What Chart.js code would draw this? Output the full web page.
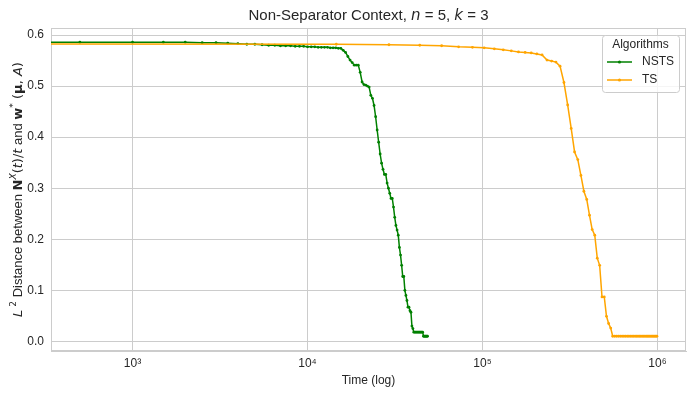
<!DOCTYPE html>
<html>
<head>
<meta charset="utf-8">
<script src="https://cdn.jsdelivr.net/npm/chart.js@4"></script>
<style>
  html, body { margin: 0; padding: 0; background: #ffffff; }
</style>
</head>
<body>
<canvas id="myChart" width="698" height="399"></canvas>
<script>
// Time steps and distances
const nstsTime = [
    1, 500, 1000, 1500, 2000, 2500, 3000, 3500, 4000, 4500, 5000, 5500, 6000, 6500, 7000, 7500,
    8000, 8500, 9000, 9500, 10000, 10500, 11000, 11500, 12000, 12500, 13000, 13500, 14000, 14500, 15000,
    15500, 16000, 16500, 17000, 17500, 18000, 18500, 19000, 19500, 20000, 20500, 21000, 21500, 22000,
    22500, 23000, 23500, 24000, 24500, 25000, 25500, 26000, 26500, 27000, 27500, 28000, 28500, 29000,
    29500, 30000, 30500, 31000, 31500, 32000, 32500, 33000, 33500, 34000, 34500, 35000, 35500, 36000,
    36500, 37000, 37500, 38000, 38500, 39000, 39500, 40000, 40500, 41000, 41500, 42000, 42500, 43000,
    43500, 44000, 44500, 45000, 45500, 46000, 46500, 47000, 47500, 48000, 48500
];
const nstsDist = [
    0.586, 0.586, 0.586, 0.586, 0.586, 0.585, 0.585, 0.584, 0.583, 0.582, 0.582, 0.581, 0.580, 0.580, 0.579, 0.579,
    0.579, 0.578, 0.578, 0.578, 0.577, 0.577, 0.577, 0.576, 0.576, 0.576, 0.576, 0.575, 0.575, 0.575, 0.574,
    0.574, 0.570, 0.566, 0.558, 0.551, 0.546, 0.541, 0.541, 0.541, 0.527, 0.508, 0.503, 0.502, 0.500,
    0.498, 0.482, 0.476, 0.462, 0.440, 0.414, 0.390, 0.367, 0.349, 0.337, 0.327, 0.327, 0.310, 0.300,
    0.290, 0.280, 0.280, 0.263, 0.243, 0.227, 0.218, 0.208, 0.184, 0.169, 0.149, 0.127, 0.127, 0.100,
    0.090, 0.080, 0.067, 0.067, 0.060, 0.057, 0.030, 0.025, 0.018, 0.018, 0.018, 0.018, 0.018, 0.018,
    0.018, 0.018, 0.018, 0.018, 0.018, 0.010, 0.010, 0.010, 0.010, 0.010, 0.010
];
const tsTime = [
    1, 14600, 29200, 43800, 58400, 73000, 87600, 102200, 116800, 131400, 146000, 160600, 175200, 189800,
    204400, 219000, 233600, 248200, 262800, 277400, 292000, 306600, 321200, 335800, 350400, 365000,
    379600, 394200, 408800, 423400, 438000, 452600, 467200, 481800, 496400, 511000, 525600, 540200,
    554800, 569400, 584000, 598600, 613200, 627800, 642400, 657000, 671600, 686200, 700800, 715400,
    730000, 744600, 759200, 773800, 788400, 803000, 817600, 832200, 846800, 861400, 876000, 890600,
    905200, 919800, 934400, 949000, 963600, 978200, 992800
];
const tsDist = [
    0.583, 0.582, 0.581, 0.580, 0.579, 0.577, 0.576, 0.575, 0.573, 0.571, 0.569, 0.567, 0.566, 0.565,
    0.563, 0.561, 0.551, 0.549, 0.547, 0.539, 0.507, 0.463, 0.417, 0.371, 0.356, 0.325,
    0.294, 0.278, 0.247, 0.219, 0.208, 0.163, 0.149, 0.087, 0.087, 0.049, 0.035, 0.026,
    0.010, 0.010, 0.010, 0.010, 0.010, 0.010, 0.010, 0.010, 0.010, 0.010, 0.010, 0.010,
    0.010, 0.010, 0.010, 0.010, 0.010, 0.010, 0.010, 0.010, 0.010, 0.010, 0.010, 0.010,
    0.010, 0.010, 0.010, 0.010, 0.010, 0.010, 0.010
];
const seriesNames = ['NSTS', 'TS'];
const seriesColours = ['#008000', '#FFA500'];
const xTicks = [1000, 10000, 100000, 1000000];
const xTickLabels = ['10³', '10⁴', '10⁵', '10⁶'];
const yTicks = [0.0, 0.1, 0.2, 0.3, 0.4, 0.5, 0.6];
const yTickLabels = ['0.0', '0.1', '0.2', '0.3', '0.4', '0.5', '0.6'];

const TEXT = '#262626';
const GRID = '#cccccc';
const SANS = '"Liberation Sans", Arial, sans-serif';
const MATH = '"DejaVu Sans", sans-serif';

// Draw a line of mixed-font text, centred on (x, y), optionally rotated
function drawRich(ctx, parts, x, y, size, angle) {
    ctx.save();
    ctx.translate(x, y);
    ctx.rotate(angle || 0);
    ctx.fillStyle = TEXT;
    ctx.textBaseline = 'alphabetic';
    ctx.textAlign = 'left';
    let total = 0;
    parts.forEach(function (p) {
        const s = size * (p.sup ? 0.7 : 1);
        ctx.font = (p.style || '') + ' ' + s + 'px ' + (p.family || SANS);
        p.w = ctx.measureText(p.t).width;
        total += p.w;
    });
    let cx = -total / 2;
    parts.forEach(function (p) {
        const s = size * (p.sup ? 0.7 : 1);
        ctx.font = (p.style || '') + ' ' + s + 'px ' + (p.family || SANS);
        ctx.fillText(p.t, cx, size * 0.36 - (p.sup ? size * 0.42 : 0));
        cx += p.w;
    });
    ctx.restore();
}

const decorations = {
    id: 'decorations',
    beforeDatasetsDraw(chart) {
        const a = chart.chartArea;
        const ctx = chart.ctx;
        ctx.save();
        ctx.strokeStyle = GRID;
        ctx.lineWidth = 1;
        ctx.strokeRect(a.left + 0.5, a.top + 0.5, a.right - a.left - 1, a.bottom - a.top - 1);
        ctx.restore();
    },
    afterDraw(chart) {
        const a = chart.chartArea;
        const ctx = chart.ctx;

        // title
        drawRich(ctx, [
            { t: 'Non-Separator Context, ' },
            { t: 'n', style: 'italic', family: MATH },
            { t: ' = 5, ' },
            { t: 'k', style: 'italic', family: MATH },
            { t: ' = 3' }
        ], (a.left + a.right) / 2, 15, 15, 0);

        // y axis label
        drawRich(ctx, [
            { t: 'L', style: 'italic', family: MATH },
            { t: ' 2', family: MATH, sup: true },
            { t: ' Distance between ' },
            { t: 'N', style: 'bold', family: MATH },
            { t: 'X', style: 'italic', family: MATH, sup: true },
            { t: '(', family: MATH },
            { t: 't', style: 'italic', family: MATH },
            { t: ')/', family: MATH },
            { t: 't', style: 'italic', family: MATH },
            { t: ' and ' },
            { t: 'w', style: 'bold', family: MATH },
            { t: '*', family: MATH, sup: true },
            { t: ' (', family: MATH },
            { t: 'μ', style: 'bold', family: MATH },
            { t: ', ', family: MATH },
            { t: 'A', style: 'italic', family: MATH },
            { t: ')', family: MATH }
        ], 17, (a.top + a.bottom) / 2, 13, -Math.PI / 2);

        // legend box
        const bx = 602, by = 35, bw = 77, bh = 57;
        ctx.save();
        ctx.fillStyle = 'rgba(255,255,255,0.8)';
        ctx.strokeStyle = GRID;
        ctx.lineWidth = 1;
        ctx.beginPath();
        ctx.roundRect(bx + 0.5, by + 0.5, bw, bh, 3);
        ctx.fill();
        ctx.stroke();
        ctx.fillStyle = TEXT;
        ctx.font = '12px ' + SANS;
        ctx.textAlign = 'center';
        ctx.textBaseline = 'middle';
        ctx.fillText('Algorithms', bx + bw / 2, by + 10);
        chart.data.datasets.forEach(function (ds, i) {
            const ly = by + 27 + i * 18;
            ctx.strokeStyle = ds.borderColor;
            ctx.lineWidth = 1.5;
            ctx.beginPath();
            ctx.moveTo(bx + 5, ly);
            ctx.lineTo(bx + 30, ly);
            ctx.stroke();
            ctx.fillStyle = ds.borderColor;
            ctx.beginPath();
            ctx.arc(bx + 17.5, ly, 1.6, 0, Math.PI * 2);
            ctx.fill();
            ctx.fillStyle = TEXT;
            ctx.textAlign = 'left';
            ctx.fillText(ds.label, bx + 40, ly);
        });
        ctx.restore();
    }
};

function MakeDataset(name, colour, times, dists, order) {
    return {
        label: name,
        data: times.map(function (t, i) { return { x: t, y: dists[i] }; }),
        borderColor: colour,
        backgroundColor: colour,
        borderWidth: 1.5,
        pointRadius: 1.4,
        pointHoverRadius: 1.4,
        pointBorderWidth: 0,
        fill: false,
        tension: 0,
        order: order
    };
}

const chart = new Chart(document.getElementById('myChart'), {
    type: 'line',
    data: {
        datasets: [
            MakeDataset(seriesNames[0], seriesColours[0], nstsTime, nstsDist, 1),
            MakeDataset(seriesNames[1], seriesColours[1], tsTime, tsDist, 0)
        ]
    },
    options: {
        responsive: false,
        animation: false,
        events: [],
        layout: { padding: { left: 0, right: 12, top: 28, bottom: 0 } },
        plugins: {
            legend: { display: false },
            tooltip: { enabled: false }
        },
        scales: {
            x: {
                type: 'logarithmic',
                min: 342,
                max: 1455000,
                afterBuildTicks: function (scale) {
                    scale.ticks = xTicks.map(function (v) { return { value: v }; });
                },
                afterFit: function (scale) { scale.height = 48; },
                grid: { color: GRID, drawTicks: false },
                border: { color: GRID },
                ticks: {
                    autoSkip: false,
                    maxRotation: 0,
                    padding: 5,
                    color: TEXT,
                    font: { family: SANS, size: 12 },
                    callback: function (value, index) { return xTickLabels[index]; }
                },
                title: {
                    display: true,
                    text: 'Time (log)',
                    color: TEXT,
                    font: { family: SANS, size: 12 },
                    padding: { top: 2, bottom: 11 }
                }
            },
            y: {
                type: 'linear',
                min: -0.0189,
                max: 0.6138,
                afterBuildTicks: function (scale) {
                    scale.ticks = yTicks.map(function (v) { return { value: v }; });
                },
                afterFit: function (scale) { scale.width = 51; },
                grid: { color: GRID, drawTicks: false },
                border: { color: GRID },
                ticks: {
                    padding: 7,
                    color: TEXT,
                    font: { family: SANS, size: 12 },
                    callback: function (value, index) { return yTickLabels[index]; }
                }
            }
        }
    },
    plugins: [decorations]
});
</script>
</body>
</html>
